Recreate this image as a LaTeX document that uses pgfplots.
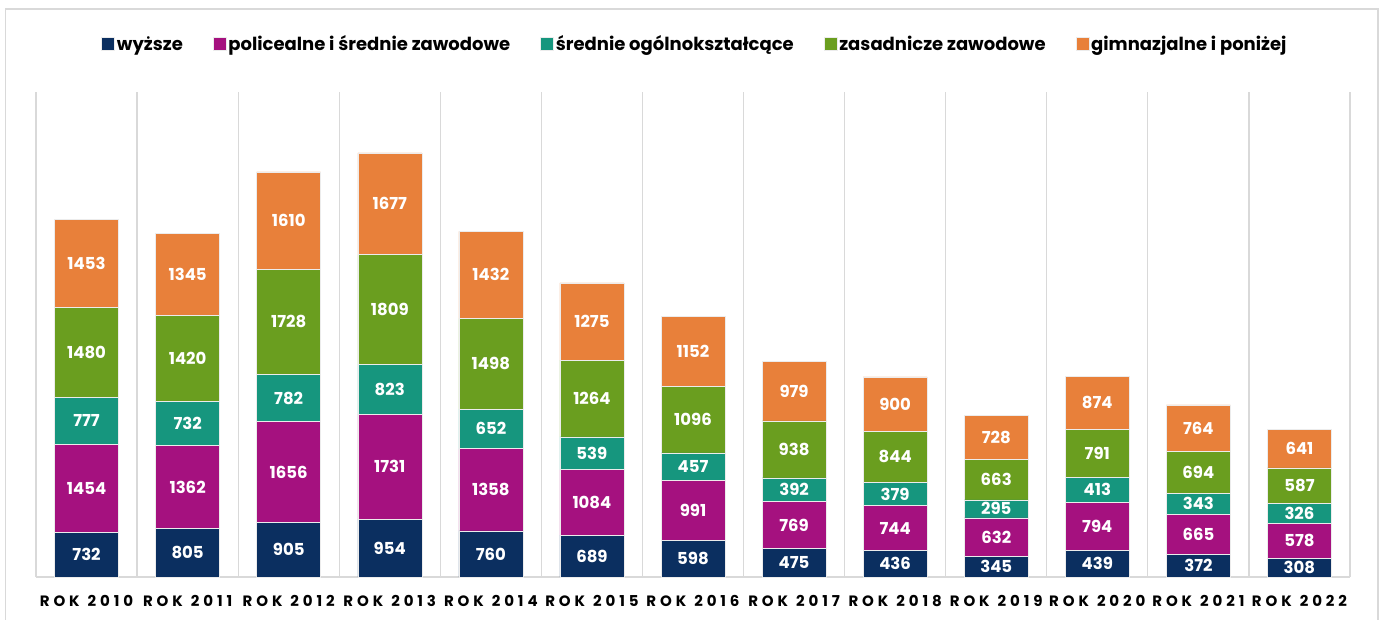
\documentclass[border=0pt]{standalone}
\usepackage{fontspec}
\setmainfont{Poppins}
\usepackage{pgfplots}
\pgfplotsset{compat=1.18}
\definecolor{cWy}{HTML}{0B2F60}
\definecolor{cPo}{HTML}{A5117F}
\definecolor{cOg}{HTML}{16967E}
\definecolor{cZa}{HTML}{6A9E1F}
\definecolor{cGi}{HTML}{E8803A}
\definecolor{cGrid}{HTML}{D9D9D9}
\newcommand{\rok}[1]{ROK\hspace{8pt}#1}

\begin{document}
\begin{tikzpicture}[x=1pt,y=1pt]
\useasboundingbox (0,0) rectangle (1383,619);
\draw[cGrid, line width=1.5pt] (5.5,-10) rectangle (1378,610);
\begin{axis}[
  at={(36pt,42pt)}, anchor=south west,
  scale only axis, width=1314pt, height=485pt,
  ybar stacked, bar width=0.633,
  xmin=-0.5, xmax=12.5, ymin=0, ymax=8000,
  axis x line*=bottom, axis y line=none,
  x axis line style={cGrid, line width=1.2pt, -},
  xtick={0,...,12},
  xticklabels={\rok{2010},\rok{2011},\rok{2012},\rok{2013},\rok{2014},\rok{2015},\rok{2016},\rok{2017},\rok{2018},\rok{2019},\rok{2020},\rok{2021},\rok{2022}},
  major tick length=0, minor tick length=0,
  minor xtick={-0.5,0.5,...,12.5},
  xminorgrids, minor grid style={cGrid, line width=1.2pt},
  xticklabel style={font=\bfseries\fontsize{15}{15}\selectfont\addfontfeature{LetterSpace=26}, yshift=-15pt},
  legend style={at={(0.5015,1.099)}, anchor=center, draw=none, legend columns=5,
    font=\bfseries\fontsize{18}{18}\selectfont,
    /tikz/every even column/.append style={column sep=28pt}},
  legend image code/.code={\fill[#1] (0pt,-6.5pt) rectangle (13pt,6.5pt);},
  visualization depends on=rawy\as\rawy,
  nodes near coords={\pgfmathprintnumber{\rawy}},
  /pgf/number format/.cd, fixed, precision=0, 1000 sep={}, assume math mode=true,
  /pgfplots/.cd,
  every node near coord/.append style={font=\bfseries\fontsize{16.5}{16.5}\selectfont, text=white, anchor=center},
]
\addplot[fill=cWy, draw=white!85!gray, line width=0.5pt] coordinates {(0,732) (1,805) (2,905) (3,954) (4,760) (5,689) (6,598) (7,475) (8,436) (9,345) (10,439) (11,372) (12,308)};
\addplot[fill=cPo, draw=white!85!gray, line width=0.5pt] coordinates {(0,1454) (1,1362) (2,1656) (3,1731) (4,1358) (5,1084) (6,991) (7,769) (8,744) (9,632) (10,794) (11,665) (12,578)};
\addplot[fill=cOg, draw=white!85!gray, line width=0.5pt] coordinates {(0,777) (1,732) (2,782) (3,823) (4,652) (5,539) (6,457) (7,392) (8,379) (9,295) (10,413) (11,343) (12,326)};
\addplot[fill=cZa, draw=white!85!gray, line width=0.5pt] coordinates {(0,1480) (1,1420) (2,1728) (3,1809) (4,1498) (5,1264) (6,1096) (7,938) (8,844) (9,663) (10,791) (11,694) (12,587)};
\addplot[fill=cGi, draw=white!85!gray, line width=0.5pt] coordinates {(0,1453) (1,1345) (2,1610) (3,1677) (4,1432) (5,1275) (6,1152) (7,979) (8,900) (9,728) (10,874) (11,764) (12,641)};
\legend{wyższe, policealne i średnie zawodowe, średnie ogólnokształcące, zasadnicze zawodowe, gimnazjalne i poniżej}
\end{axis}
\end{tikzpicture}
\end{document}
